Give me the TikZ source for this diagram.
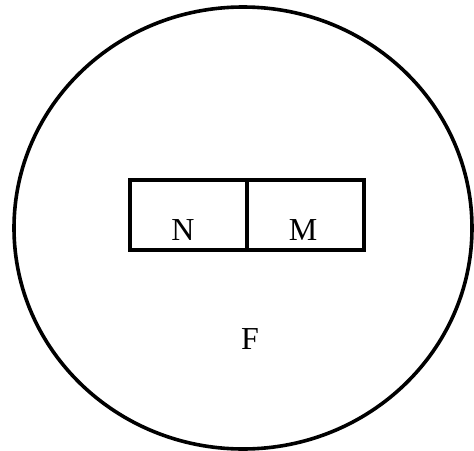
\documentclass[tikz,border=0pt]{standalone}
\usepackage{fontspec}
\setmainfont{Liberation Serif}
\begin{document}
\begin{tikzpicture}[x=1pt,y=-1pt,
  outline/.style={draw=black,line width=3.6pt},
  lbl/.style={font=\fontsize{32}{36}\selectfont,anchor=base,inner sep=0pt}]
\useasboundingbox (0,0) rectangle (474,450);
\draw[outline] (243,228) ellipse [x radius=229, y radius=221];
\node[outline,line width=4pt,minimum width=117pt,minimum height=70pt,inner sep=0pt] (n) at (188.5,215) {};
\node[outline,line width=4pt,minimum width=117pt,minimum height=70pt,inner sep=0pt] (m) at (305.5,215) {};
\node[lbl] (nl) at (183,240) {N};
\node[lbl] (ml) at (303,240) {M};
\node[lbl] (fl) at (250,349) {F};
\end{tikzpicture}
\end{document}
